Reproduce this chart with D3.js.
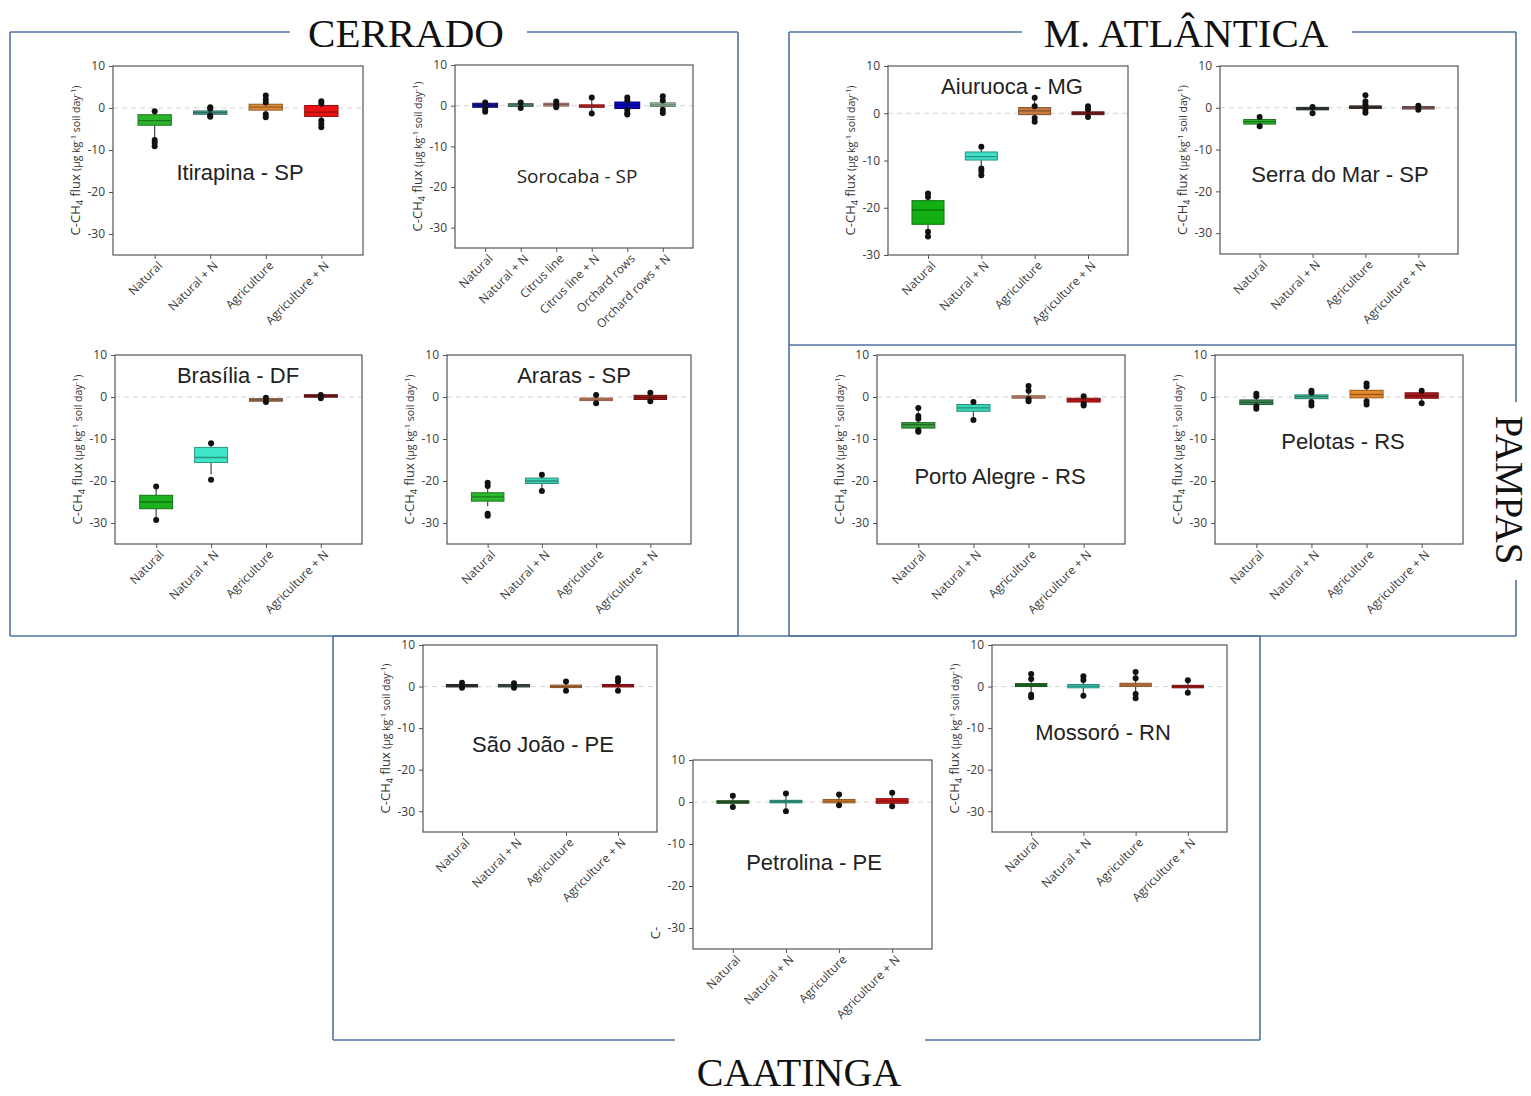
<!DOCTYPE html>
<html>
<head>
<meta charset="utf-8">
<script src="https://cdn.jsdelivr.net/npm/d3@7"></script>
<style>
  body { margin: 0; background: #fff; }
  svg { display: block; }
</style>
</head>
<body>
<svg id="fig" width="1531" height="1096"></svg>
<script>
// Treatments
const cats4 = ["Natural", "Natural + N", "Agriculture", "Agriculture + N"];
const catsSorocaba = ["Natural", "Natural + N", "Citrus line", "Citrus line + N", "Orchard rows", "Orchard rows + N"];
const yTicks = [10, 0, -10, -20, -30];

// Box statistics per treatment: [q1, median, q3, whiskerLow, whiskerHigh, points]
const itirapina = [
  [-4.1, -3.0, -1.6, -7.0, -1.0, [-0.8, -7.6, -8.3, -9.1]],
  [-1.5, -1.1, -0.7, -1.9, -0.3, [0.2, -0.2, -1.8, -2.1]],
  [-0.5, 0.2, 0.9, -1.5, 2.0, [3.0, 2.0, 1.3, -1.5, -2.2]],
  [-2.0, -1.0, 0.6, -3.0, 1.6, [1.6, 1.0, -3.0, -3.8, -4.6]]
];
const sorocaba = [
  [-0.4, 0.1, 0.6, -0.8, 0.8, [0.8, -0.8, -1.5]],
  [-0.2, 0.2, 0.5, -0.6, 0.8, [0.8, -0.6]],
  [-0.1, 0.3, 0.6, -0.4, 1.0, [1.0, 0.2, -0.4]],
  [-0.3, -0.1, 0.1, -1.9, 2.0, [2.0, -1.9]],
  [-0.7, 0.1, 0.9, -2.2, 2.0, [2.0, 1.2, -1.0, -1.8, -2.2]],
  [-0.2, 0.2, 0.7, -1.8, 2.3, [2.3, 1.3, -1.0, -1.8]]
];
const brasilia = [
  [-26.6, -25.0, -23.4, -29.3, -21.3, [-21.3, -29.3]],
  [-15.6, -14.4, -12.0, -18.4, -11.0, [-11.0, -19.7]],
  [-0.9, -0.7, -0.5, -1.2, -0.2, [-0.2, -1.2]],
  [0.0, 0.2, 0.5, -0.3, 0.5, [0.5, -0.3]]
];
const araras = [
  [-24.8, -23.8, -22.8, -26.0, -21.2, [-20.4, -21.2, -27.8, -28.3]],
  [-20.6, -20.0, -19.3, -22.4, -18.5, [-18.5, -22.4]],
  [-0.8, -0.5, -0.3, -1.5, 0.5, [0.5, -1.5]],
  [-0.6, -0.1, 0.4, -1.0, 1.0, [1.0, -1.0]]
];
const aiuruoca = [
  [-23.5, -20.5, -18.5, -25.1, -17.0, [-17.0, -17.7, -25.1, -26.1]],
  [-9.9, -9.2, -8.2, -11.7, -7.1, [-7.1, -11.7, -12.2, -13.1]],
  [-0.3, 0.5, 1.2, -1.8, 3.3, [3.3, 1.5, -1.0, -1.8]],
  [-0.3, 0.0, 0.3, -0.8, 1.5, [1.5, 0.8, -0.8]]
];
const serraDoMar = [
  [-3.9, -3.3, -2.8, -4.4, -2.2, [-2.2, -4.4]],
  [-0.3, -0.2, -0.1, -1.3, 0.2, [0.2, -1.3]],
  [0.0, 0.1, 0.3, -1.2, 3.0, [3.0, 1.5, 0.8, -0.5, -1.2]],
  [-0.1, 0.0, 0.1, -0.5, 0.5, [0.5, -0.5]]
];
const portoAlegre = [
  [-7.4, -6.6, -6.1, -8.3, -2.6, [-2.6, -4.5, -5.2, -7.9, -8.3]],
  [-3.4, -2.6, -1.8, -5.5, -1.2, [-1.2, -5.5]],
  [-0.3, 0.0, 0.3, -1.0, 2.6, [2.6, 1.5, -0.5, -1.0]],
  [-1.2, -0.7, -0.3, -2.0, 0.2, [0.2, -1.6, -2.0]]
];
const pelotas = [
  [-1.8, -1.3, -0.7, -2.8, 0.8, [0.8, 0.2, -2.2, -2.8]],
  [-0.4, 0.1, 0.5, -2.0, 1.5, [1.5, 1.0, -1.2, -2.0]],
  [-0.2, 0.6, 1.6, -1.8, 3.2, [3.2, 2.5, -1.0, -1.8]],
  [-0.3, 0.3, 1.0, -1.5, 1.5, [1.5, -1.5]]
];
const saoJoao = [
  [0.0, 0.2, 0.4, -0.3, 0.9, [0.9, -0.3]],
  [0.0, 0.2, 0.4, -0.3, 0.8, [0.8, -0.3]],
  [-0.2, 0.0, 0.3, -1.0, 1.2, [1.2, -1.0]],
  [-0.1, 0.2, 0.5, -1.0, 2.0, [2.0, 1.2, -1.0]]
];
const petrolina = [
  [-0.3, 0.0, 0.3, -1.2, 1.5, [1.5, -1.2]],
  [-0.2, 0.1, 0.4, -2.2, 2.0, [2.0, -2.2]],
  [-0.2, 0.2, 0.6, -0.8, 1.8, [1.8, -0.8]],
  [-0.3, 0.2, 0.8, -1.0, 2.2, [2.2, -1.0]]
];
const mossoro = [
  [0.0, 0.4, 0.7, -2.0, 3.0, [3.0, 1.8, -2.0, -2.6]],
  [-0.3, 0.1, 0.5, -2.2, 2.5, [2.5, 1.6, -2.2]],
  [0.0, 0.4, 0.8, -1.8, 3.5, [3.5, 2.0, -1.8, -2.8]],
  [-0.3, 0.0, 0.3, -1.5, 1.5, [1.5, -1.5]]
];

// Box fill colours per site
const colItirapina = ["#2cb52c", "#4aa898", "#e08a35", "#e81414"];
const colSorocaba  = ["#14149a", "#5a9a82", "#c89482", "#d02828", "#0606c4", "#9cc4a8"];
const colBrasilia  = ["#1db21d", "#40e6c8", "#b07a58", "#8b1a1a"];
const colAraras    = ["#2cb82c", "#3ed8b8", "#e0906a", "#a01818"];
const colAiuruoca  = ["#12b012", "#40e0c8", "#c97a40", "#8b2020"];
const colSerra     = ["#2ab52a", "#3a4444", "#4a3a30", "#9a6a6a"];
const colPorto     = ["#3aa03a", "#3ad8b8", "#e89a80", "#d01818"];
const colPelotas   = ["#3a8a50", "#3cc0a0", "#e88a2a", "#b01818"];
const colSaoJoao   = ["#3a3a3a", "#4a5a58", "#d08040", "#c01818"];
const colPetrolina = ["#2a6a2a", "#30c0a0", "#e08a30", "#d01818"];
const colMossoro   = ["#1e7a28", "#40d8c0", "#d8844a", "#c01818"];

// Panel placement on the page
const layout = [
  { title: "Itirapina - SP",    data: itirapina,   cats: cats4,        col: colItirapina, l: 113,  r: 363,  t: 66,  b: 255, yMin: -35, tx: 240,  ty: 180 },
  { title: "Sorocaba - SP",     data: sorocaba,    cats: catsSorocaba, col: colSorocaba,  l: 455,  r: 693,  t: 65,  b: 248, yMin: -35, tx: 577,  ty: 183, font: "'Open Sans', sans-serif", fs: 19 },
  { title: "Brasília - DF",     data: brasilia,    cats: cats4,        col: colBrasilia,  l: 115,  r: 362,  t: 355, b: 544, yMin: -35, tx: 238,  ty: 383 },
  { title: "Araras - SP",       data: araras,      cats: cats4,        col: colAraras,    l: 447,  r: 691,  t: 355, b: 544, yMin: -35, tx: 574,  ty: 383 },
  { title: "Aiuruoca - MG",     data: aiuruoca,    cats: cats4,        col: colAiuruoca,  l: 888,  r: 1128, t: 66,  b: 255, yMin: -30, tx: 1012, ty: 94 },
  { title: "Serra do Mar - SP", data: serraDoMar,  cats: cats4,        col: colSerra,     l: 1220, r: 1458, t: 66,  b: 254, yMin: -35, tx: 1340, ty: 182 },
  { title: "Porto Alegre - RS", data: portoAlegre, cats: cats4,        col: colPorto,     l: 877,  r: 1125, t: 355, b: 544, yMin: -35, tx: 1000, ty: 484 },
  { title: "Pelotas - RS",      data: pelotas,     cats: cats4,        col: colPelotas,   l: 1215, r: 1463, t: 355, b: 544, yMin: -35, tx: 1343, ty: 449 },
  { title: "São João - PE",     data: saoJoao,     cats: cats4,        col: colSaoJoao,   l: 423,  r: 657,  t: 645, b: 832, yMin: -35, tx: 543,  ty: 752 },
  { title: "Petrolina - PE",    data: petrolina,   cats: cats4,        col: colPetrolina, l: 693,  r: 932,  t: 760, b: 949, yMin: -35, tx: 814,  ty: 870, shortLabel: true },
  { title: "Mossoró - RN",      data: mossoro,     cats: cats4,        col: colMossoro,   l: 992,  r: 1227, t: 645, b: 832, yMin: -35, tx: 1103, ty: 740 }
];

const svg = d3.select("#fig");
const frameColor = "#4f73a0";
const serif = "'Liberation Serif', 'Times New Roman', serif";
const sans = "'Liberation Sans', Arial, sans-serif";

// ---------- biome frames ----------
const frames = svg.append("g").attr("stroke", frameColor).attr("stroke-width", 1.6).attr("fill", "none");
function seg(x1, y1, x2, y2) { frames.append("line").attr("x1", x1).attr("y1", y1).attr("x2", x2).attr("y2", y2); }
// Cerrado
seg(10, 32, 290, 32); seg(527, 32, 738, 32); seg(10, 32, 10, 636); seg(738, 32, 738, 636); seg(10, 636, 738, 636);
// Mata Atlântica
seg(789, 32, 1022, 32); seg(1352, 32, 1516, 32); seg(789, 32, 789, 345); seg(1516, 32, 1516, 345); seg(789, 345, 1516, 345);
// Pampas
seg(789, 345, 789, 636); seg(1516, 345, 1516, 402); seg(1516, 580, 1516, 636); seg(789, 636, 1516, 636);
// Caatinga
seg(333, 636, 1260, 636); seg(333, 636, 333, 1040); seg(1260, 636, 1260, 1040); seg(333, 1040, 675, 1040); seg(925, 1040, 1260, 1040);

const biome = svg.append("g").attr("font-family", serif).attr("font-size", 41).attr("fill", "#111").attr("text-anchor", "middle");
biome.append("text").attr("x", 406).attr("y", 47).text("CERRADO");
biome.append("text").attr("x", 1186).attr("y", 47).text("M. ATLÂNTICA");
biome.append("text").attr("transform", "translate(1496,490) rotate(90)").attr("font-size", 39).text("PAMPAS");
biome.append("text").attr("x", 799).attr("y", 1086).attr("font-size", 40).text("CAATINGA");

// ---------- box-plot panels ----------
layout.forEach(p => {
  const g = svg.append("g");
  const n = p.cats.length;
  const x = d3.scalePoint().domain(p.cats).range([p.l, p.r]).padding(n === 6 ? 0.85 : 0.75);
  const y = d3.scaleLinear().domain([p.yMin, 10]).range([p.b, p.t]);
  const bw = x.step() * (n === 6 ? 0.7 : 0.6);

  // zero reference line
  g.append("line")
    .attr("x1", p.l).attr("x2", p.r).attr("y1", y(0)).attr("y2", y(0))
    .attr("stroke", "#d4d4d4").attr("stroke-width", 1).attr("stroke-dasharray", "5,4");

  // axes
  const yAxis = d3.axisLeft(y).tickValues(yTicks).tickFormat(v => String(v)).tickSize(4).tickPadding(4);
  const ya = g.append("g").attr("transform", `translate(${p.l},0)`).call(yAxis);
  const xAxis = d3.axisBottom(x).tickSize(4).tickPadding(3);
  const xa = g.append("g").attr("transform", `translate(0,${p.b})`).call(xAxis);
  [ya, xa].forEach(a => {
    a.select(".domain").remove();
    a.selectAll(".tick line").attr("stroke", "#555");
    a.selectAll("text").attr("fill", "#3a3a3a").attr("font-family", "'Open Sans', sans-serif");
  });
  ya.selectAll("text").attr("font-size", 12);
  xa.selectAll("text")
    .attr("font-size", 12)
    .attr("text-anchor", "end")
    .attr("dx", "-0.2em").attr("dy", "0.55em")
    .attr("transform", "rotate(-45)");

  // boxes
  p.data.forEach((d, i) => {
    const [q1, med, q3, lo, hi, pts] = d;
    const cx = x(p.cats[i]);
    const fill = p.col[i];
    const edge = d3.color(fill).darker(1.2).formatHex();
    g.append("line").attr("x1", cx).attr("x2", cx).attr("y1", y(lo)).attr("y2", y(q1))
      .attr("stroke", "#444").attr("stroke-width", 1.2);
    g.append("line").attr("x1", cx).attr("x2", cx).attr("y1", y(q3)).attr("y2", y(hi))
      .attr("stroke", "#444").attr("stroke-width", 1.2);
    const h = Math.max(y(q1) - y(q3), 2.5);
    g.append("rect")
      .attr("x", cx - bw / 2).attr("width", bw)
      .attr("y", (y(q1) + y(q3)) / 2 - h / 2).attr("height", h)
      .attr("fill", fill).attr("stroke", edge).attr("stroke-width", 1);
    g.append("line").attr("x1", cx - bw / 2).attr("x2", cx + bw / 2).attr("y1", y(med)).attr("y2", y(med))
      .attr("stroke", edge).attr("stroke-width", 1.3);
    g.selectAll(null).data(pts).enter().append("circle")
      .attr("cx", cx).attr("cy", v => y(v)).attr("r", 3).attr("fill", "#111");
  });

  // frame
  g.append("rect").attr("x", p.l).attr("y", p.t).attr("width", p.r - p.l).attr("height", p.b - p.t)
    .attr("fill", "none").attr("stroke", "#555").attr("stroke-width", 1.2);

  // panel title
  g.append("text").attr("x", p.tx).attr("y", p.ty).attr("text-anchor", "middle")
    .attr("font-family", p.font || sans).attr("font-size", p.fs || 22).attr("fill", "#222")
    .text(p.title);

  // y-axis label
  const lab = g.append("text")
    .attr("transform", `translate(${p.l - 33},${p.shortLabel ? y(-30) + 5 : (p.t + p.b) / 2}) rotate(-90)`)
    .attr("text-anchor", "middle").attr("font-family", "'Open Sans', sans-serif").attr("fill", "#333")
    .attr("font-size", 13);
  if (p.shortLabel) {
    lab.text("C-");
  } else {
    lab.append("tspan").text("C-CH");
    lab.append("tspan").attr("font-size", 9).attr("dy", 3).text("4");
    lab.append("tspan").attr("dy", -3).text(" flux ");
    lab.append("tspan").attr("font-size", 10.5).text("(μg kg");
    lab.append("tspan").attr("font-size", 7.5).attr("dy", -4).text("-1");
    lab.append("tspan").attr("font-size", 10.5).attr("dy", 4).text(" soil day");
    lab.append("tspan").attr("font-size", 7.5).attr("dy", -4).text("-1");
    lab.append("tspan").attr("font-size", 10.5).attr("dy", 4).text(")");
  }
});
</script>
</body>
</html>
